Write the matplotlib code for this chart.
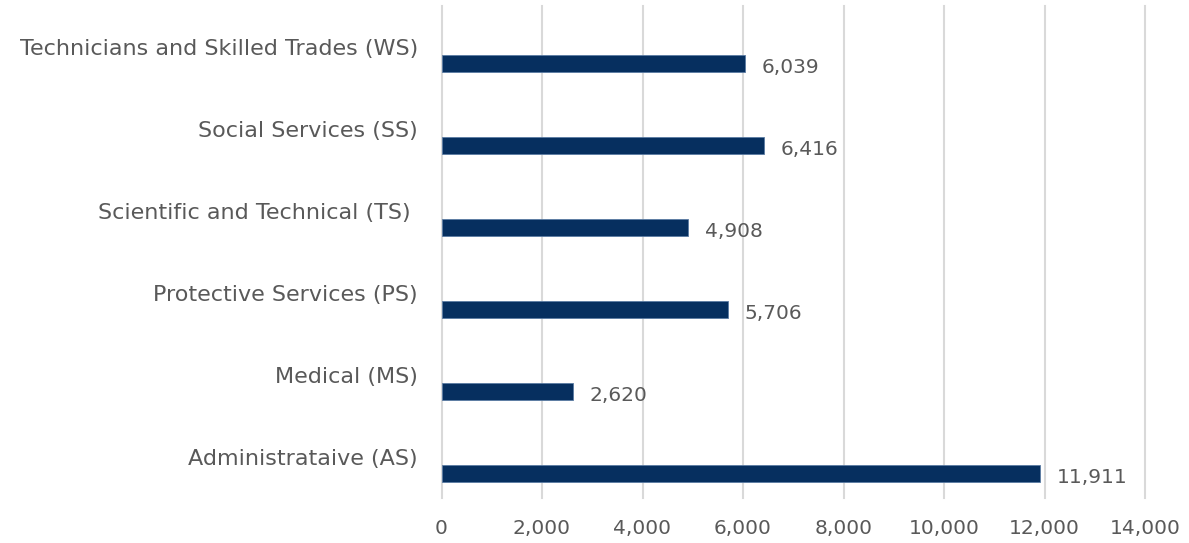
import matplotlib
matplotlib.use("Agg")
import matplotlib.pyplot as plt
from matplotlib.ticker import FuncFormatter, MultipleLocator

categories = ["Administrataive (AS)", "Medical (MS)", "Protective Services (PS)",
              "Scientific and Technical (TS) ", "Social Services (SS)",
              "Technicians and Skilled Trades (WS)"]
values = [11911, 2620, 5706, 4908, 6416, 6039]

plt.rcParams['font.family'] = ['DejaVu Sans']
text_color = "#595959"
bar_color = "#062F5F"
fs = 14.5
fs_cat = 16

fig = plt.figure(figsize=(11.89, 5.43), dpi=100)
ax = fig.add_axes([441.5/1189, 1 - 498/543, (1145 - 441.5)/1189, 492/543])

pos = list(range(len(categories)))
offset = 0.207
bh = 0.207
ax.barh([p - offset for p in pos], values, height=bh, color=bar_color,
        edgecolor="#5A7BA3", linewidth=0.6, zorder=3)

for p, v in zip(pos, values):
    ax.annotate(f"{v:,}", xy=(v, p - offset), xytext=(12, -2.5), textcoords="offset points",
                ha="left", va="center", fontsize=fs, color=text_color)

ax.set_xlim(0, 14000)
ax.set_ylim(-0.5, len(categories) - 0.5)
ax.xaxis.set_major_locator(MultipleLocator(2000))
ax.xaxis.set_major_formatter(FuncFormatter(lambda x, _: f"{int(x):,}"))
ax.set_yticks(pos)
ax.set_yticklabels(categories)
ax.tick_params(axis="y", length=0, pad=17, labelsize=fs_cat, labelcolor=text_color)
ax.tick_params(axis="x", length=0, pad=15, labelsize=fs, labelcolor=text_color)
ax.grid(axis="x", color="#D9D9D9", linewidth=1.5, zorder=0)
for line in ax.get_xgridlines():
    line.set_clip_on(False)
for s in ax.spines.values():
    s.set_visible(False)

fig.savefig("out.png", dpi=100)
